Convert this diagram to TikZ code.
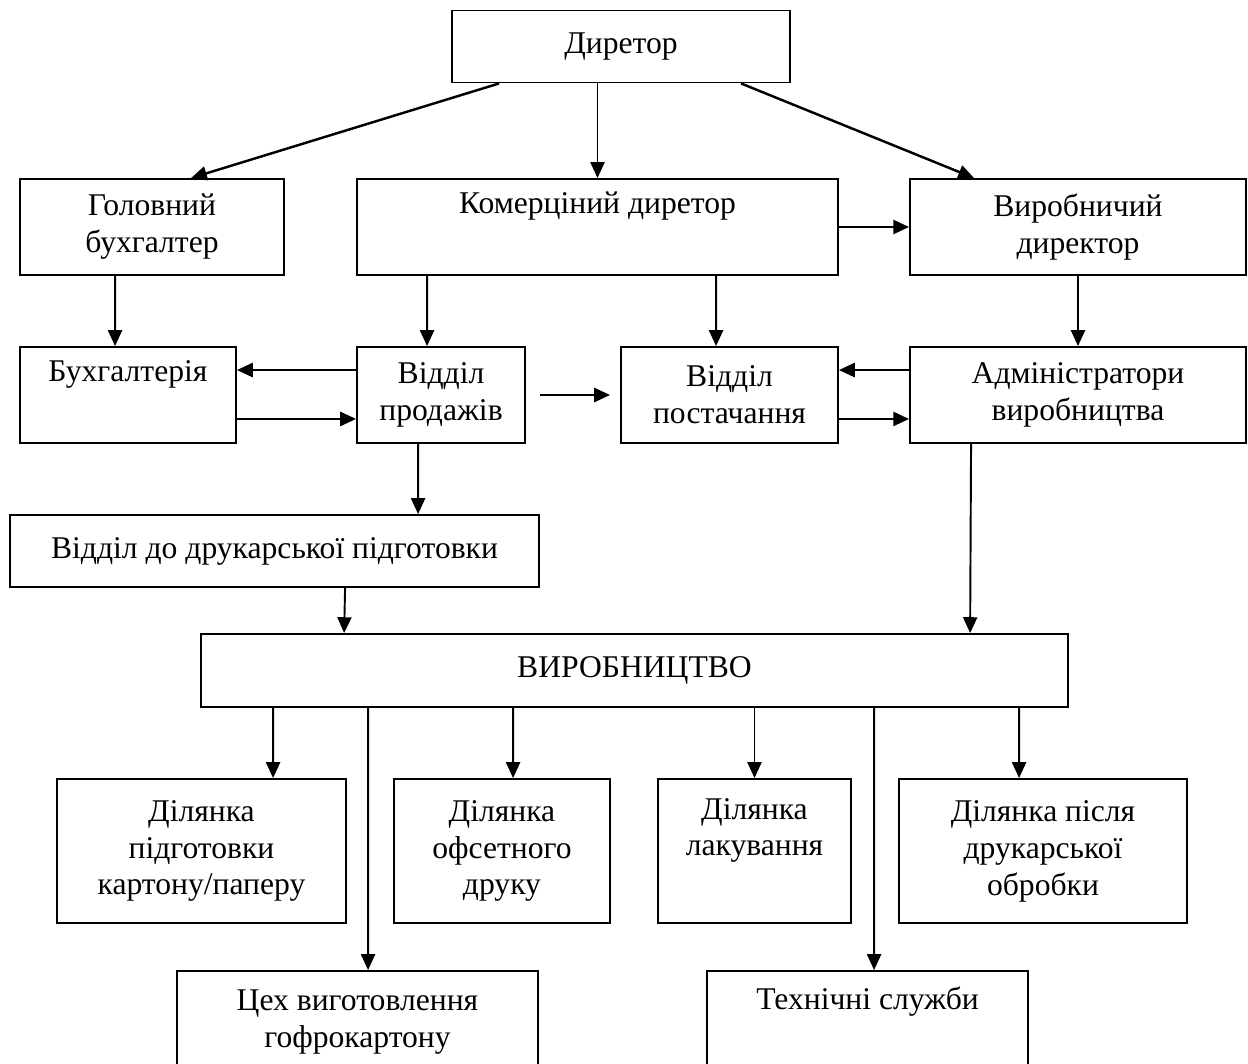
\documentclass[tikz,border=0pt]{standalone}
\usepackage{fontspec}
\setmainfont{Liberation Serif}
\usetikzlibrary{arrows.meta,calc}

\begin{document}
\begin{tikzpicture}[x=0.02cm, y=-0.02cm, >={Triangle[length=9pt,width=8pt]}]

    % стилі
    \tikzstyle{blok}=[rectangle, draw, line width=1.1pt, inner sep=2pt, align=center, font=\fontsize{18}{21}\selectfont]
    \tikzstyle{tovsta}=[->, line width=1.4pt]
    \tikzstyle{tonka}=[->, line width=1.1pt]

    \useasboundingbox (0,0) rectangle (1248,1064);

    %======================= КЕРІВНИЦТВО =======================
    \node[blok, minimum width=6.76cm, minimum height=1.44cm] (dir) at (621,46.5) {Диретор};

    \node[blok, minimum width=5.28cm, minimum height=1.92cm] (golov)  at (152,227)    {Головний\\бухгалтер};
    \node[blok, minimum width=9.62cm, minimum height=1.92cm] (komerc) at (597.5,227)  {Комерціний диретор\\ \strut};
    \node[blok, minimum width=6.72cm, minimum height=1.92cm] (vyrob)  at (1078,227)   {Виробничий\\директор};

    %======================= ВІДДІЛИ =======================
    \node[blok, minimum width=4.32cm, minimum height=1.92cm] (buh)   at (128,395)    {Бухгалтерія\\ \strut};
    \node[blok, minimum width=3.36cm, minimum height=1.92cm] (prod)  at (441,395)    {Відділ\\продажів};
    \node[blok, minimum width=4.34cm, minimum height=1.92cm] (post)  at (729.5,395)  {Відділ\\постачання};
    \node[blok, minimum width=6.72cm, minimum height=1.92cm] (admin) at (1078,395)   {Адміністратори\\виробництва};

    \node[blok, minimum width=10.58cm, minimum height=1.44cm] (dodruk) at (274.5,551) {Відділ до друкарської підготовки};
    \node[blok, minimum width=17.34cm, minimum height=1.46cm] (vyrobn) at (634.5,670.5) {ВИРОБНИЦТВО};

    %======================= ДІЛЯНКИ =======================
    \node[blok, minimum width=5.78cm, minimum height=2.88cm] (d1) at (201.5,851) {Ділянка\\підготовки\\картону/паперу};
    \node[blok, minimum width=4.32cm, minimum height=2.88cm] (d2) at (502,851)   {Ділянка\\офсетного\\друку};
    \node[blok, minimum width=3.86cm, minimum height=2.88cm] (d3) at (754.5,851) {Ділянка\\лакування\\ \strut};
    \node[blok, minimum width=5.76cm, minimum height=2.88cm] (d4) at (1043,851)  {Ділянка після\\друкарської\\обробки};

    \node[blok, minimum width=7.22cm, minimum height=2.04cm] (ceh)  at (357.5,1022) {Цех виготовлення\\гофрокартону};
    \node[blok, minimum width=6.42cm, minimum height=2.04cm] (tech) at (867.5,1022) {Технічні служби\\ \strut};

    % від директора
    \draw[tovsta] ($(dir.south west)+(48,0)$) -- ($(golov.north west)+(172,0)$);
    \draw[tonka]  (komerc.north |- dir.south) -- (komerc.north);
    \draw[tovsta] ($(dir.south west)+(290,0)$) -- ($(vyrob.north west)+(65,0)$);
    \draw[tovsta] (komerc.east) -- (vyrob.west);

    % другий рівень
    \draw[tonka] ($(golov.south west)+(96,0)$) -- ($(buh.north west)+(96,0)$);
    \draw[tonka] ($(komerc.south west)+(71,0)$) -- ($(prod.north west)+(71,0)$);
    \draw[tonka] ($(komerc.south west)+(360,0)$) -- ($(post.north west)+(96,0)$);
    \draw[tonka] (vyrob.south) -- (admin.north);

    % зв'язки між відділами
    \draw[tovsta] ($(prod.north west)+(0,24)$) -- ($(buh.north east)+(0,24)$);
    \draw[tovsta] ($(buh.south east)+(0,-25)$) -- ($(prod.south west)+(0,-25)$);
    \draw[tovsta] ($(prod.east)+(14,0)$) -- ($(post.west)+(-10,0)$);
    \draw[tovsta] ($(admin.north west)+(0,24)$) -- ($(post.north east)+(0,24)$);
    \draw[tovsta] ($(post.south east)+(0,-25)$) -- ($(admin.south west)+(0,-25)$);

    % до виробництва
    \draw[tonka] ($(prod.south west)+(62,0)$) -- ($(dodruk.north west)+(409,0)$);
    \draw[tonka] ($(dodruk.south west)+(336,0)$) -- ($(vyrobn.north west)+(144,0)$);
    \draw[tonka] ($(admin.south west)+(62,0)$) -- ($(vyrobn.north west)+(770,0)$);

    % від виробництва
    \draw[tonka] ($(vyrobn.south west)+(73,0)$)  -- ($(d1.north west)+(217,0)$);
    \draw[tonka] ($(vyrobn.south west)+(168,0)$) -- ($(ceh.north west)+(192,0)$);
    \draw[tonka] ($(vyrobn.south west)+(313,0)$) -- ($(d2.north west)+(120,0)$);
    \draw[tonka] (d3.north |- vyrobn.south) -- (d3.north);
    \draw[tonka] ($(vyrobn.south west)+(674,0)$) -- ($(tech.north west)+(168,0)$);
    \draw[tonka] ($(vyrobn.south west)+(819,0)$) -- ($(d4.north west)+(121,0)$);

\end{tikzpicture}
\end{document}
